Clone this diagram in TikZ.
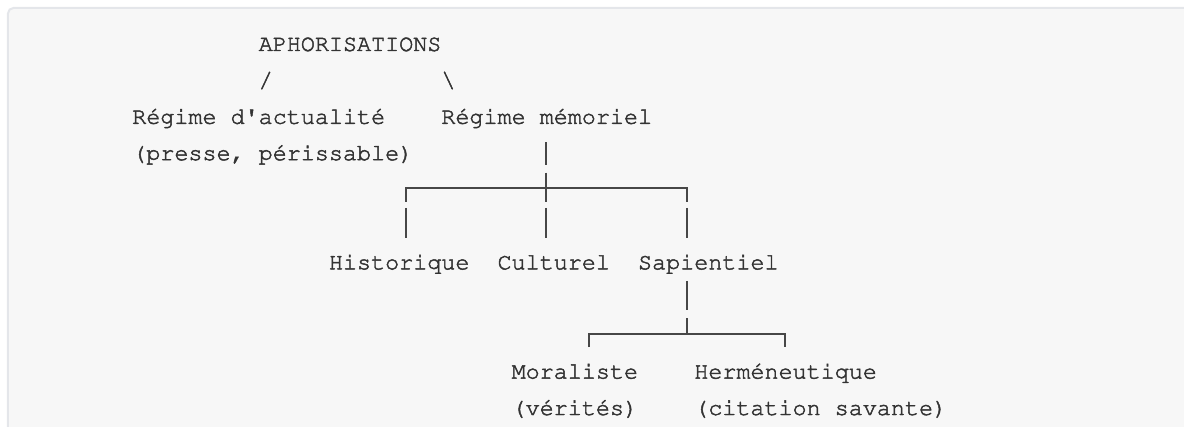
\documentclass[tikz,border=0pt]{standalone}
\usepackage[T1]{fontenc}
\usepackage{courier}
\usepackage{tikz}
\definecolor{codebg}{HTML}{F7F7F7}
\definecolor{codeborder}{HTML}{E4E6EA}
\definecolor{codetext}{HTML}{333333}
% slightly heavier strokes for the thin Courier outlines
\newcommand{\heavy}[1]{\special{pdf:literal 2 Tr 0.35 w}#1\special{pdf:literal 0 Tr}}
\tikzset{
  txt/.style={anchor=base west, inner sep=0pt, text=codetext,
    font=\ttfamily\fontsize{17.56pt}{27.3pt}\selectfont},
  branch/.style={draw=codetext!90, line width=1.5pt},
}

\begin{document}
\begin{tikzpicture}[x=10.5375pt, y=-27.3pt]
        % one unit = one character cell, one row = one text line
        \useasboundingbox (-99pt,38.25pt) rectangle (789pt,-282pt);
        \filldraw[fill=codebg, draw=codeborder, line width=1.5pt, rounded corners=4pt]
            (-93pt,32.25pt) rectangle (800pt,-300pt);

        \node[txt] (aphor) at (9,0) {\heavy{APHORISATIONS}};
        \node[txt] (slash) at (9,1) {\heavy{/}};
        \node[txt] (bslash) at (22,1) {\heavy{\textbackslash}};
        \node[txt] (actu) at (0,2) {\heavy{Régime d\textquotesingle actualité}};
        \node[txt] (actunote) at (0,3) {\heavy{(presse, périssable)}};
        \node[txt] (memo) at (22,2) {\heavy{Régime mémoriel}};
        \node[txt] (histo) at (14,6) {\heavy{Historique}};
        \node[txt] (cultu) at (26,6) {\heavy{Culturel}};
        \node[txt] (sapi) at (36,6) {\heavy{Sapientiel}};
        \node[txt] (moral) at (27,9) {\heavy{Moraliste}};
        \node[txt] (moralnote) at (27,10) {\heavy{(vérités)}};
        \node[txt] (herme) at (40,9) {\heavy{Herméneutique}};
        \node[txt] (hermenote) at (40,10) {\heavy{(citation savante)}};

        % memoriel branch
        \coordinate (memoTop) at (29.5,2.51);
        \coordinate (memoBot) at (29.5,3.14);
        \draw[branch] (memoTop) -- (memoBot);
        \coordinate (jHisto) at (19.5,3.766);
        \coordinate (jMemo) at (29.5,3.766);
        \coordinate (jSapi) at (39.5,3.766);
        \draw[branch] ([yshift=-0.371*27.3pt]jHisto) -- (jHisto) -- (jSapi) -- ([yshift=-0.371*27.3pt]jSapi);
        \draw[branch] ([yshift=0.426*27.3pt]jMemo) -- ([yshift=-0.371*27.3pt]jMemo);
        \foreach \c in {19.5,29.5,39.5}
            \draw[branch] (\c,4.313) -- (\c,5.124);

        % sapientiel branch
        \draw[branch] (39.5,6.313) -- (39.5,7.124);
        \coordinate (jMoral) at (32.5,7.766);
        \coordinate (jSapi2) at (39.5,7.766);
        \coordinate (jHerme) at (46.5,7.766);
        \draw[branch] ([yshift=-0.371*27.3pt]jMoral) -- (jMoral) -- (jHerme) -- ([yshift=-0.371*27.3pt]jHerme);
        \draw[branch] ([yshift=0.426*27.3pt]jSapi2) -- (jSapi2);
\end{tikzpicture}
\end{document}
